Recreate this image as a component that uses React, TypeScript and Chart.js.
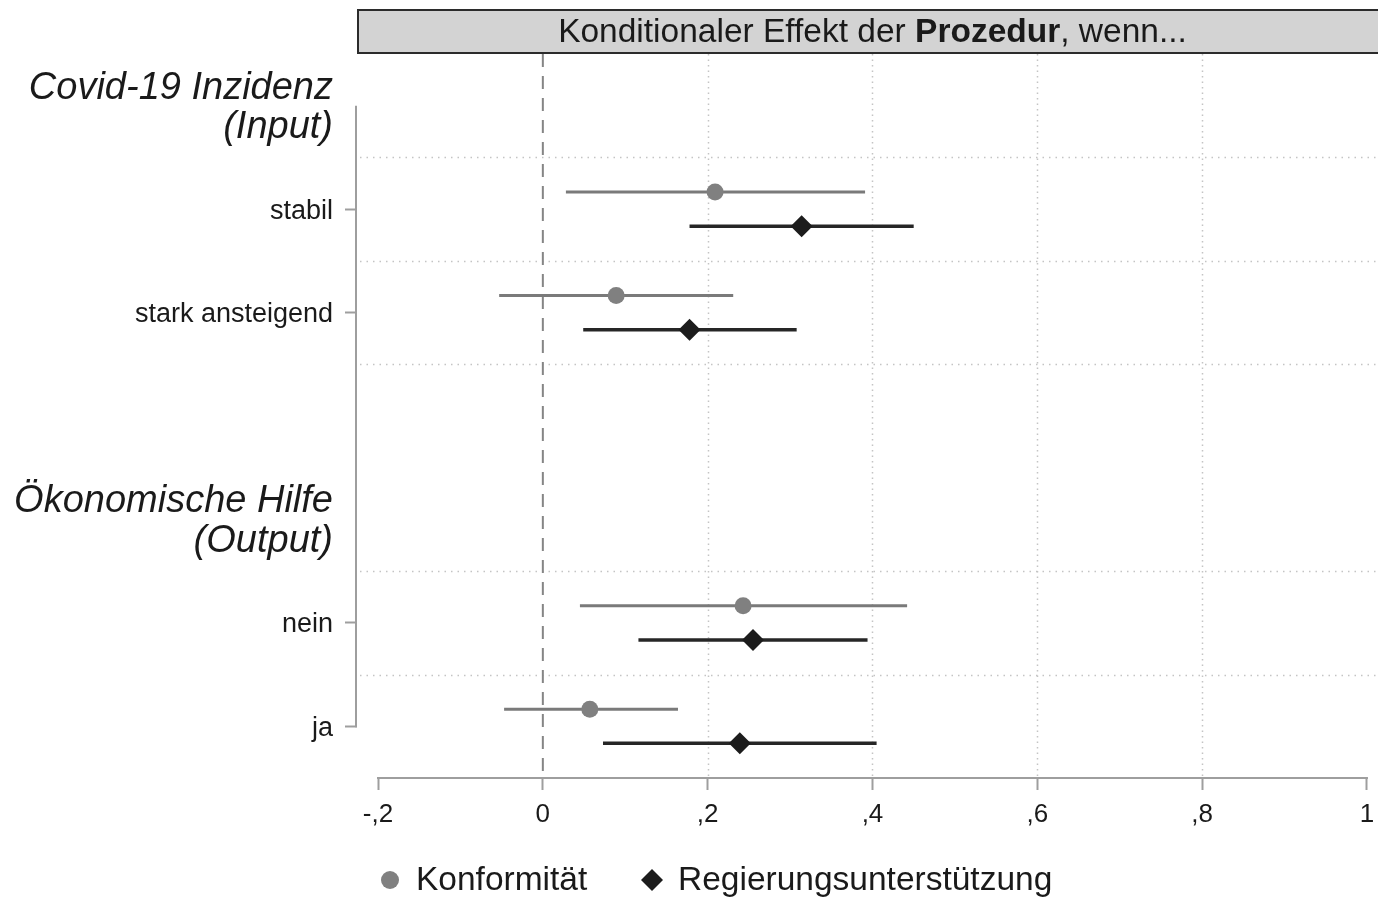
import React, { useEffect, useRef } from "react";
import { Chart, registerables } from "chart.js";

Chart.register(...registerables);

const FONT = "'Liberation Sans', Arial, Helvetica, sans-serif";

// ---- data ----
const rowLabels = ["stabil", "stark ansteigend", "nein", "ja"];
const rowPositions = [1, 2, 5, 6];
const groupHeadings = [["Covid-19 Inzidenz", "(Input)"], ["Ökonomische Hilfe", "(Output)"]];
const groupPositions = [0, 4];
const seriesNames = ["Konformität", "Regierungsunterstützung"];
const konfEstimate = [0.209, 0.089, 0.243, 0.057];
const konfLower = [0.028, -0.053, 0.045, -0.047];
const konfUpper = [0.391, 0.231, 0.442, 0.164];
const regEstimate = [0.314, 0.178, 0.255, 0.239];
const regLower = [0.178, 0.049, 0.116, 0.073];
const regUpper = [0.45, 0.308, 0.394, 0.405];
const xTickValues = [-0.2, 0, 0.2, 0.4, 0.6, 0.8, 1];
const separatorRows = [0.5, 1.5, 2.5, 4.5, 5.5];
const titleParts = [
  { text: "Konditionaler Effekt der ", bold: false },
  { text: "Prozedur", bold: true },
  { text: ", wenn...", bold: false },
];

const X_MIN = -0.2255;
const X_MAX = 1.0134;
const OFFSET = 0.165;

const KONF_COLOR = "#808080";
const KONF_LINE = "#7a7a7a";
const REG_COLOR = "#1c1c1c";
const REG_LINE = "#262626";
const AXIS_COLOR = "#9e9e9e";
const TEXT_COLOR = "#1a1a1a";

function fmtTick(v: number): string {
  if (Math.abs(v) < 1e-9) return "0";
  if (Math.abs(v - 1) < 1e-9) return "1";
  const d = String(Math.round(Math.abs(v) * 10));
  return (v < 0 ? "-" : "") + "," + d;
}

function yLabel(v: number): string | string[] {
  const gi = groupPositions.indexOf(v);
  if (gi >= 0) return groupHeadings[gi];
  const ri = rowPositions.indexOf(v);
  if (ri >= 0) return rowLabels[ri];
  return "";
}

const decorPlugin = {
  id: "decor",
  beforeDatasetsDraw(chart: any) {
    const { ctx, chartArea: a, scales } = chart;
    const x = scales.x;
    const y = scales.y;
    ctx.save();
    // vertical dotted grid
    ctx.strokeStyle = "#c4c4c4";
    ctx.lineWidth = 1.5;
    ctx.setLineDash([1.5, 4]);
    xTickValues
      .filter((v) => v > 0.01 && v < 0.99)
      .forEach((v) => {
        const px = Math.round(x.getPixelForValue(v)) + 0.5;
        ctx.beginPath();
        ctx.moveTo(px, a.top);
        ctx.lineTo(px, a.bottom);
        ctx.stroke();
      });
    // horizontal dotted separators
    ctx.setLineDash([1.5, 5]);
    separatorRows.forEach((r) => {
      const py = Math.round(y.getPixelForValue(r)) + 0.5;
      ctx.beginPath();
      ctx.moveTo(a.left + 3, py);
      ctx.lineTo(a.right, py);
      ctx.stroke();
    });
    ctx.setLineDash([]);
    // y axis line
    ctx.strokeStyle = AXIS_COLOR;
    ctx.lineWidth = 2;
    ctx.beginPath();
    ctx.moveTo(a.left - 1, y.getPixelForValue(groupPositions[0]));
    ctx.lineTo(a.left - 1, y.getPixelForValue(rowPositions[rowPositions.length - 1]) + 1);
    ctx.stroke();
    // x axis line
    ctx.beginPath();
    ctx.moveTo(x.getPixelForValue(xTickValues[0]) - 1, a.bottom);
    ctx.lineTo(x.getPixelForValue(xTickValues[xTickValues.length - 1]) + 1, a.bottom);
    ctx.stroke();
    ctx.restore();
  },
  afterDraw(chart: any) {
    const { ctx, chartArea: a, width } = chart;
    ctx.save();
    // header box
    const top = 10;
    const bottom = a.top - 1;
    ctx.fillStyle = "#d3d3d3";
    ctx.fillRect(a.left, top, width - a.left + 4, bottom - top);
    ctx.strokeStyle = "#2b2b2b";
    ctx.lineWidth = 2;
    ctx.strokeRect(a.left + 1, top, width - a.left + 4, bottom - top);
    // header text
    const size = 33.5;
    let total = 0;
    const widths = titleParts.map((p) => {
      ctx.font = `${p.bold ? "bold " : ""}${size}px ${FONT}`;
      const w = ctx.measureText(p.text).width;
      total += w;
      return w;
    });
    let tx = (a.left + width) / 2 + 5 - total / 2;
    const ty = (top + bottom) / 2 + 1;
    ctx.fillStyle = TEXT_COLOR;
    ctx.textBaseline = "middle";
    ctx.textAlign = "left";
    titleParts.forEach((p, i) => {
      ctx.font = `${p.bold ? "bold " : ""}${size}px ${FONT}`;
      ctx.fillText(p.text, tx, ty);
      tx += widths[i];
    });
    // legend
    const ly = 880;
    ctx.fillStyle = KONF_COLOR;
    ctx.beginPath();
    ctx.arc(390, ly, 9, 0, Math.PI * 2);
    ctx.fill();
    ctx.fillStyle = REG_COLOR;
    ctx.beginPath();
    ctx.moveTo(652, ly - 11);
    ctx.lineTo(663, ly);
    ctx.lineTo(652, ly + 11);
    ctx.lineTo(641, ly);
    ctx.closePath();
    ctx.fill();
    ctx.fillStyle = TEXT_COLOR;
    ctx.font = `33.5px ${FONT}`;
    ctx.fillText(seriesNames[0], 416, ly + 1);
    ctx.fillText(seriesNames[1], 678, ly + 1);
    ctx.restore();
  },
};

export default function App() {
  const ref = useRef<HTMLCanvasElement>(null);
  useEffect(() => {
    document.body.style.margin = "0";
    const canvas = ref.current!;

    const datasets: any[] = [];
    // point markers
    datasets.push({
      label: seriesNames[0],
      data: rowPositions.map((r, i) => ({ x: konfEstimate[i], y: r - OFFSET })),
      pointStyle: "circle",
      pointRadius: 8.5,
      pointBackgroundColor: KONF_COLOR,
      pointBorderWidth: 0,
      showLine: false,
      order: 0,
    });
    datasets.push({
      label: seriesNames[1],
      data: rowPositions.map((r, i) => ({ x: regEstimate[i], y: r + OFFSET })),
      pointStyle: "rectRot",
      pointRadius: 11,
      pointBackgroundColor: REG_COLOR,
      pointBorderWidth: 0,
      showLine: false,
      order: 0,
    });
    // confidence intervals
    rowPositions.forEach((r, i) => {
      datasets.push({
        label: seriesNames[0] + " KI",
        data: [
          { x: konfLower[i], y: r - OFFSET },
          { x: konfUpper[i], y: r - OFFSET },
        ],
        showLine: true,
        borderColor: KONF_LINE,
        borderWidth: 3,
        pointRadius: 0,
        order: 1,
      });
      datasets.push({
        label: seriesNames[1] + " KI",
        data: [
          { x: regLower[i], y: r + OFFSET },
          { x: regUpper[i], y: r + OFFSET },
        ],
        showLine: true,
        borderColor: REG_LINE,
        borderWidth: 3.5,
        pointRadius: 0,
        order: 1,
      });
    });
    // zero reference line
    datasets.push({
      label: "null",
      data: [
        { x: 0, y: -0.5 },
        { x: 0, y: 6.5 },
      ],
      showLine: true,
      borderColor: "#858585",
      borderWidth: 2,
      borderDash: [13, 9],
      pointRadius: 0,
      order: 2,
    });

    const isHeading = (v: any) => groupPositions.indexOf(v) >= 0;

    const chart = new Chart(canvas, {
      type: "scatter",
      data: { datasets },
      plugins: [decorPlugin as any],
      options: {
        responsive: false,
        animation: false,
        devicePixelRatio: 1,
        events: [],
        layout: { autoPadding: false, padding: { top: 54, left: 0, right: 0, bottom: 0 } },
        plugins: {
          legend: { display: false },
          tooltip: { enabled: false },
        },
        scales: {
          x: {
            type: "linear",
            position: "bottom",
            min: X_MIN,
            max: X_MAX,
            bounds: "data",
            afterBuildTicks: (s: any) => {
              s.ticks = xTickValues.map((v) => ({ value: v }));
            },
            afterFit: (s: any) => {
              s.height = 120;
              s.paddingLeft = 0;
              s.paddingRight = 0;
            },
            ticks: {
              autoSkip: false,
              maxRotation: 0,
              padding: 9,
              color: TEXT_COLOR,
              font: { family: FONT, size: 26 },
              callback: (v: any) => fmtTick(Number(v)),
            },
            grid: {
              display: true,
              drawOnChartArea: false,
              drawTicks: true,
              tickLength: 12,
              tickWidth: 2,
              tickColor: AXIS_COLOR,
              color: AXIS_COLOR,
            },
            border: { display: false },
          },
          y: {
            type: "linear",
            position: "left",
            reverse: true,
            min: -0.5,
            max: 6.5,
            bounds: "data",
            afterBuildTicks: (s: any) => {
              s.ticks = [...groupPositions, ...rowPositions]
                .sort((p, q) => p - q)
                .map((v) => ({ value: v }));
            },
            afterFit: (s: any) => {
              s.width = 357;
              s.paddingTop = 0;
              s.paddingBottom = 0;
            },
            ticks: {
              autoSkip: false,
              padding: 12,
              labelOffset: 2,
              color: TEXT_COLOR,
              font: (ctx: any) =>
                isHeading(ctx.tick && ctx.tick.value)
                  ? { family: FONT, size: 38, style: "italic", lineHeight: 1.03 }
                  : { family: FONT, size: 27 },
              callback: (v: any) => yLabel(Number(v)),
            },
            grid: {
              display: true,
              drawOnChartArea: false,
              drawTicks: true,
              tickLength: 12,
              tickWidth: 2,
              tickColor: (ctx: any) =>
                isHeading(ctx.tick && ctx.tick.value) ? "rgba(0,0,0,0)" : AXIS_COLOR,
              color: "rgba(0,0,0,0)",
            },
            border: { display: false },
          },
        },
      } as any,
    });
    return () => chart.destroy();
  }, []);

  return (
    <div style={{ position: "absolute", left: 0, top: 0, width: 1378, height: 898, background: "#fff" }}>
      <canvas ref={ref} width={1378} height={898} style={{ display: "block", width: 1378, height: 898 }} />
    </div>
  );
}
